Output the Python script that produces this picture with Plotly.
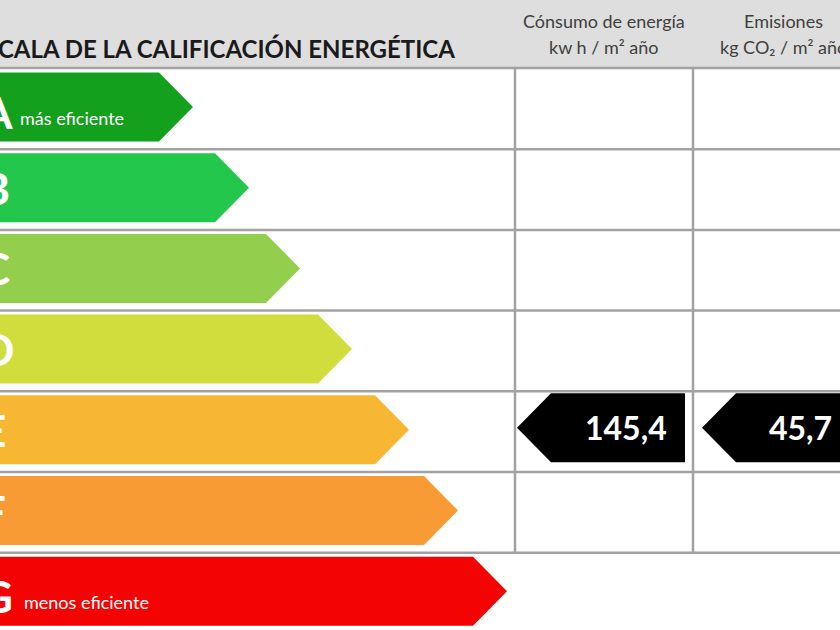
import plotly.graph_objects as go

# energy classes, arrow tip position (px) and colours
classes = ["A", "B", "C", "D", "E", "F", "G"]
arrow_tip = [193, 249, 300, 352, 409, 458, 507]
class_colors = ["#13a01d", "#22c74b", "#93cf4d", "#d1dd3c", "#f7b733", "#f99b34", "#f40303"]
class_notes = {"A": "más eficiente", "G": "menos eficiente"}

# rating of the building
rating = "E"
consumo = 145.4
emisiones = 45.7

title = "ESCALA DE LA CALIFICACIÓN ENERGÉTICA"
col_titles = ["Cónsumo de energía", "Emisiones"]
col_units = ["kw h / m² año", "kg CO₂ / m² año"]

W, H = 840, 630
header_h = 68
row_top0 = 72.5
row_step = 80.7
row_h = 69
point = 34
col_x = [515, 693, 858]
tag_gap = [2, 9]
font = "Lato"

fig = go.Figure()

for i, (cls, tip, col) in enumerate(zip(classes, arrow_tip, class_colors)):
    top = row_top0 + i * row_step
    bot = top + row_h
    fig.add_trace(go.Scatter(
        x=[-40, tip - point, tip, tip - point, -40, -40],
        y=[top, top, (top + bot) / 2, bot, bot, top],
        fill="toself", fillcolor=col, mode="lines", line=dict(width=0),
        hoverinfo="skip", showlegend=False))
    dy = 5 if cls in class_notes else 0
    fig.add_annotation(x=0, y=(top + bot) / 2 + dy, xref="x", yref="y",
                       text="<b>%s</b>" % cls, showarrow=False,
                       xanchor="left", yanchor="middle", xshift=-21,
                       font=dict(family=font, size=44, color="white"))
    if cls in class_notes:
        fig.add_annotation(x=18 if cls == "A" else 22, y=(top + bot) / 2 + 11,
                           text=class_notes[cls], showarrow=False,
                           xanchor="left", yanchor="middle",
                           font=dict(family=font, size=18, color="white"))

# black indicator arrows in the rating row
r = classes.index(rating)
top = row_top0 + r * row_step - 2
bot = top + row_h
for j, val in enumerate([consumo, emisiones]):
    left = col_x[j] + tag_gap[j]
    right = col_x[j + 1] - 8
    fig.add_trace(go.Scatter(
        x=[left, left + point, right, right, left + point, left],
        y=[(top + bot) / 2, top, top, bot, bot, (top + bot) / 2],
        fill="toself", fillcolor="black", mode="lines", line=dict(width=0),
        hoverinfo="skip", showlegend=False))
    fig.add_annotation(x=right - 16, y=(top + bot) / 2,
                       text="<b>%s</b>" % ("%.1f" % val).replace(".", ","),
                       showarrow=False, xanchor="right", yanchor="middle",
                       font=dict(family=font, size=32, color="white"))

shapes = [dict(type="rect", x0=0, x1=W, y0=0, y1=header_h, xref="x", yref="y",
               fillcolor="#dedede", line=dict(width=0), layer="below")]
grid = dict(color="#a2a2a2", width=2.5)
line_ys = [header_h] + [row_top0 + i * row_step - 4 for i in range(1, len(classes))]
line_ys.append(row_top0 + (len(classes) - 1) * row_step + row_h + 6)
for y in line_ys:
    shapes.append(dict(type="line", x0=0, x1=W, y0=y, y1=y, xref="x", yref="y", line=grid))
for x in col_x[:2]:
    shapes.append(dict(type="line", x0=x, x1=x, y0=header_h, y1=line_ys[-2],
                       xref="x", yref="y", line=grid))

fig.add_annotation(x=457, y=48, text="<b>%s</b>" % title, showarrow=False,
                   xanchor="right", yanchor="middle",
                   font=dict(family=font, size=24, color="#1a1a1a"))
for j in range(2):
    cx = (col_x[j] + col_x[j + 1]) / 2 if j == 0 else 783
    fig.add_annotation(x=cx, y=21, text=col_titles[j], showarrow=False,
                       xanchor="center", yanchor="middle",
                       font=dict(family=font, size=18, color="#404040"))
    fig.add_annotation(x=cx, y=47, text=col_units[j], showarrow=False,
                       xanchor="center", yanchor="middle",
                       font=dict(family=font, size=18, color="#404040"))

fig.update_layout(
    width=W, height=H, margin=dict(l=0, r=0, t=0, b=0),
    paper_bgcolor="white", plot_bgcolor="white", shapes=shapes,
    xaxis=dict(range=[0, W], visible=False, fixedrange=True),
    yaxis=dict(range=[H, 0], visible=False, fixedrange=True),
)

fig.write_html("out.html", config={"displayModeBar": False},
               post_script="document.body.style.margin='0';")
